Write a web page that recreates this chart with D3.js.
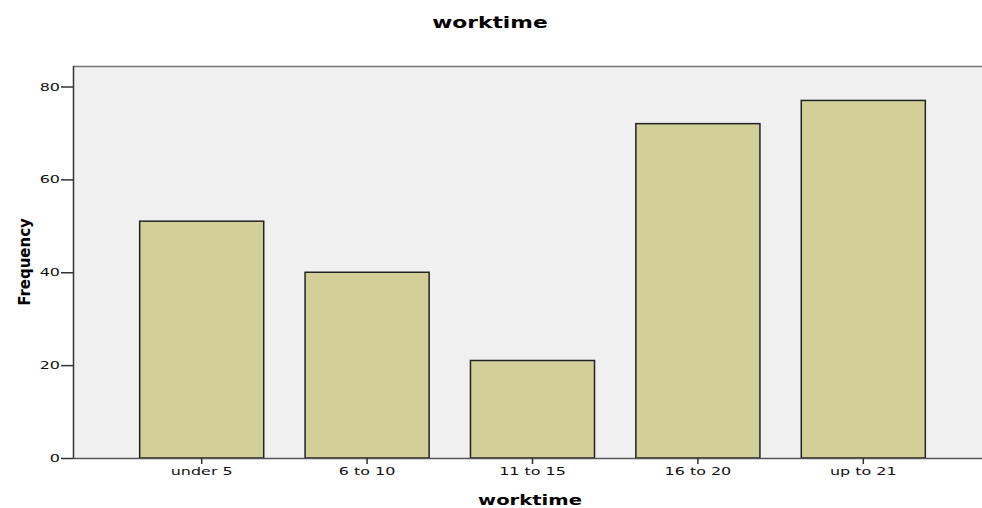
<!DOCTYPE html>
<html>
<head>
<meta charset="utf-8">
<script src="https://cdn.jsdelivr.net/npm/d3@7"></script>
<style>
  body { margin: 0; background: #fff; }
  svg { display: block; font-family: "DejaVu Sans", Verdana, sans-serif; }
</style>
</head>
<body>
<svg id="chart"></svg>
<script>
const categories = ["under 5", "6 to 10", "11 to 15", "16 to 20", "up to 21"];
const frequencies = [51, 40, 21, 72, 77];
const yTicks = [0, 20, 40, 60, 80];

const width = 982;
const height = 508;
// the source picture is stretched sideways, so text gets the same stretch
const sx = 1.45;

const svg = d3.select("#chart")
  .attr("width", width)
  .attr("height", height);

const plot = { left: 73, top: 66, right: 982, bottom: 458 };

const x = d3.scaleBand()
  .domain(categories)
  .range([119, 946])
  .paddingInner(0.25)
  .paddingOuter(0.125);

const y = d3.scaleLinear()
  .domain([0, 80])
  .range([plot.bottom, 86.5]);

// plot background
svg.append("rect")
  .attr("x", plot.left)
  .attr("y", plot.top)
  .attr("width", plot.right - plot.left)
  .attr("height", plot.bottom - plot.top)
  .style("fill", "#f0f0f0");

// top frame line
svg.append("line")
  .attr("x1", plot.left).attr("x2", plot.right)
  .attr("y1", plot.top + 0.5).attr("y2", plot.top + 0.5)
  .style("stroke", "#777")
  .style("stroke-width", 1.5);

// bars
svg.append("g")
  .selectAll("rect")
  .data(categories)
  .enter()
  .append("rect")
  .attr("x", (d) => x(d))
  .attr("y", (d, i) => y(frequencies[i]))
  .attr("width", x.bandwidth())
  .attr("height", (d, i) => y(0) - y(frequencies[i]))
  .style("fill", "#d3cf98")
  .style("stroke", "#222")
  .style("stroke-width", 1.5);

// y axis
const yAxis = svg.append("g")
  .attr("transform", `translate(${plot.left},0)`)
  .call(d3.axisLeft(y).tickValues(yTicks).tickSize(12).tickPadding(2));
yAxis.select(".domain")
  .attr("d", `M0.5,${plot.top}V${plot.bottom}`)
  .style("stroke", "#333").style("stroke-width", 1.5);
yAxis.selectAll(".tick line")
  .style("stroke", "#333").style("stroke-width", 1.5);
yAxis.selectAll(".tick text")
  .attr("x", 0)
  .attr("transform", `translate(-13,0) scale(${sx},1)`)
  .style("font-size", "11px")
  .style("fill", "#111")
  .style("font-family", "'DejaVu Sans', Verdana, sans-serif");

// x axis
const xAxis = svg.append("g")
  .attr("transform", `translate(0,${plot.bottom})`)
  .call(d3.axisBottom(x).tickSize(6).tickPadding(3));
xAxis.select(".domain")
  .attr("d", `M${plot.left},0.5H${plot.right}`)
  .style("stroke", "#555").style("stroke-width", 1.5);
xAxis.selectAll(".tick line").style("stroke", "#333").style("stroke-width", 1.5);
xAxis.selectAll(".tick text")
  .attr("transform", `scale(${sx},1)`)
  .style("font-size", "11px")
  .style("fill", "#111")
  .style("font-family", "'DejaVu Sans', Verdana, sans-serif");

// title
svg.append("text")
  .attr("transform", `translate(490,28) scale(${sx},1)`)
  .attr("text-anchor", "middle")
  .style("font-size", "15px")
  .style("font-weight", "bold")
  .text("worktime");

// x axis label
svg.append("text")
  .attr("transform", `translate(530,505) scale(${sx},1)`)
  .attr("text-anchor", "middle")
  .style("font-size", "13.5px")
  .style("font-weight", "bold")
  .text("worktime");

// y axis label
svg.append("text")
  .attr("transform", `translate(30,262) scale(1.1,1) rotate(-90)`)
  .attr("text-anchor", "middle")
  .style("font-size", "15px")
  .style("font-weight", "bold")
  .text("Frequency");
</script>
</body>
</html>
